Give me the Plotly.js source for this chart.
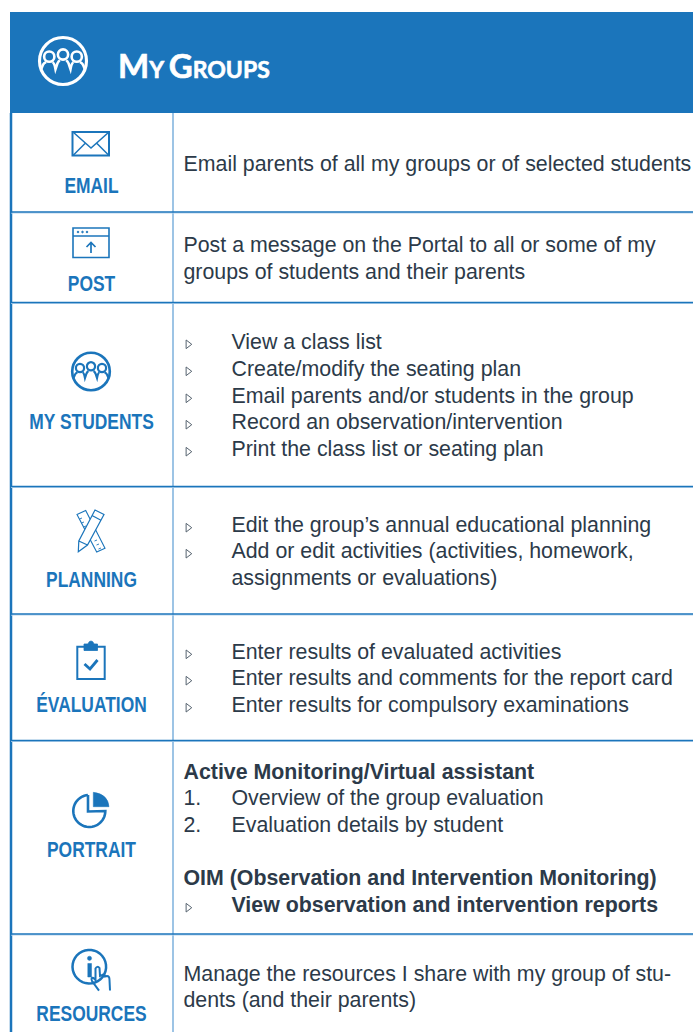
<!DOCTYPE html>
<html><head><meta charset="utf-8">
<script src="https://cdn.plot.ly/plotly-3.0.1.min.js"></script>
<style>html,body{margin:0;padding:0;background:#fff}#c{width:693px;height:1032px}</style>
</head><body><div id="c"></div>
<script>
const BLUE='#1b75bb', LIGHT='#7db1dc', INK='#2c3a49';
const titleText='<span style="font-size:33px">M</span><span style="font-size:23px">Y</span> <span style="font-size:33px">G</span><span style="font-size:23px">ROUPS</span>';
const rowLabels=['EMAIL','POST','MY STUDENTS','PLANNING','ÉVALUATION','PORTRAIT','RESOURCES'];
const labelY=[188,286,423.5,582,707,852,1016];
const rowLines=[212,302.5,486.5,614,740.5,934];
const lineText=[
'Email parents of all my groups or of selected students',
'Post a message on the Portal to all or some of my','groups of students and their parents',
'View a class list','Create/modify the seating plan','Email parents and/or students in the group','Record an observation/intervention','Print the class list or seating plan',
'Edit the group’s annual educational planning','Add or edit activities (activities, homework,','assignments or evaluations)',
'Enter results of evaluated activities','Enter results and comments for the report card','Enter results for compulsory examinations',
'<b>Active Monitoring/Virtual assistant</b>','Overview of the group evaluation','Evaluation details by student',
'<b>OIM (Observation and Intervention Monitoring)</b>','<b>View observation and intervention reports</b>',
'Manage the resources I share with my group of stu-','dents (and their parents)'];
const lineY=[166,247,273.5,343.5,370.5,397.5,423.5,450.5,526.5,553,579.5,653.5,680,706.5,773.5,799.5,826.5,879.5,906.5,975.5,1002];
const lineX=[183.5,183.5,183.5,231.5,231.5,231.5,231.5,231.5,231.5,231.5,231.5,231.5,231.5,231.5,183.5,231.5,231.5,183.5,231.5,183.5,183.5];
const bulletY=[344.3,371.3,398.3,424.7,451.7,527.7,553.7,654.3,680.7,707.7,907.7];
const numberText=['1.','2.'];
const numberY=[799.5,826.5];

function line(x0,y0,x1,y1,color,w){return {type:'line',xref:'x',yref:'y',x0,y0,x1,y1,line:{color,width:w},layer:'above'};}
function path(d,color,w,fill){return {type:'path',xref:'x',yref:'y',path:d,line:{color,width:w},fillcolor:fill||'rgba(0,0,0,0)',layer:'above'};}
function circ(cx,cy,r,color,w,fill){return {type:'circle',xref:'x',yref:'y',x0:cx-r,x1:cx+r,y0:cy-r,y1:cy+r,line:{color,width:w},fillcolor:fill||'rgba(0,0,0,0)',layer:'above'};}
function arc(cx,cy,r,a0,a1){let s='';const n=40;for(let i=0;i<=n;i++){const a=(a0+(a1-a0)*i/n)*Math.PI/180;s+=(i?' L':'M')+(cx+r*Math.cos(a)).toFixed(2)+' '+(cy+r*Math.sin(a)).toFixed(2);}return s;}
function groupIcon(cx,cy,s,color,w){
  const p=(x,y)=>(cx+x*s).toFixed(2)+' '+(cy+y*s).toFixed(2);
  const b=[circ(cx,cy,18.8*s,color,w*1.2)];
  [[-11,-3.5],[0,-5.2],[11,-3.5]].forEach(h=>b.push(circ(cx+h[0]*s,cy+h[1]*s,4.1*s,color,w)));
  b.push(path('M'+p(-17.5,6.5)+' L'+p(-16,3)+' Q'+p(-15,1.3)+' '+p(-13.5,1)
   +' M'+p(-8.5,1)+' Q'+p(-7,1.3)+' '+p(-6,6.5)+' L'+p(-4.5,2)+' Q'+p(-3.5,0)+' '+p(-2.5,-0.5)
   +' M'+p(2.5,-0.5)+' Q'+p(3.5,0)+' '+p(4.5,2)+' L'+p(6,6.5)+' Q'+p(7,1.3)+' '+p(8.5,1)
   +' M'+p(13.5,1)+' Q'+p(15,1.3)+' '+p(16,3)+' L'+p(17.5,6.5),color,w));
  return b;
}
const shapes=[
  {type:'rect',xref:'x',yref:'y',x0:10,x1:693,y0:12,y1:113,fillcolor:BLUE,line:{width:0},layer:'below'},
  line(173,113,173,1032,LIGHT,1.5),
  line(11,113,11,1032,BLUE,2.5)
];
rowLines.forEach(y=>{shapes.push(line(11,y+1,693,y+1,'#b8d4ec',1));shapes.push(line(11,y,693,y,BLUE,1.3));});
// email icon
shapes.push({type:'rect',xref:'x',yref:'y',x0:72.5,x1:109,y0:132,y1:155.5,line:{color:BLUE,width:2},fillcolor:'rgba(0,0,0,0)',layer:'above'});
shapes.push(path('M73 132 L91 148 L109 132 M73 155.5 L85.5 143 M109 155.5 L96.5 143',BLUE,1.5));
// post icon
shapes.push({type:'rect',xref:'x',yref:'y',x0:73,x1:109,y0:228,y1:257.5,line:{color:BLUE,width:1.6},fillcolor:'rgba(0,0,0,0)',layer:'above'});
shapes.push(line(73,236,109,236,BLUE,1.4));
[78,82.5,87].forEach(x=>shapes.push(circ(x,232,0.8,BLUE,1,BLUE)));
shapes.push(path('M91 253 L91 242.5 M86.5 247 L91 242.5 L95.5 247',BLUE,1.7));
// group icons
shapes.push(...groupIcon(63,61,1.25,'#ffffff',2.6));
shapes.push(...groupIcon(91,371.5,1,BLUE,2.2));
// planning icon
shapes.push(path('M77 514.5 L85.7 510.5 L105 548.3 L96.7 552 Z',BLUE,1.1,'#ffffff'));
shapes.push(path('M79.5 519 L82 518 M81.5 523 L84 522 M83.5 527 L86 526 M94.5 541 L97 540 M96.5 545 L99 544 M98.5 549 L101 548',BLUE,0.9));
shapes.push(path('M95 510 L104 514.5 L87.5 545 L78.3 551.7 L78.8 541 Z M92 515.5 L100.5 520 M78.8 541 L87.5 545',BLUE,1.2,'#ffffff'));
// evaluation icon
shapes.push({type:'rect',xref:'x',yref:'y',x0:77.3,x1:104.7,y0:646.7,y1:679,line:{color:BLUE,width:2},fillcolor:'rgba(0,0,0,0)',layer:'above'});
shapes.push(path('M84 644 L88 644 Q89 641 91 641 Q93 641 94 644 L97.5 644 L97.5 650.5 L84 650.5 Z',BLUE,0.8,BLUE));
shapes.push(path('M84.5 664 L90 669 L97.5 660',BLUE,2.8));
// portrait icon
shapes.push(path(arc(89.3,811,16,-95,-360)+' L88 811.5 L88 795',BLUE,2.6));
shapes.push(path('M93.3 792.3 L93.3 806.7 L109 806.7 Q108 794 93.3 792.3 Z',BLUE,0.5,BLUE));
// resources icon
shapes.push(path(arc(89.3,966.7,16.8,80,-355),BLUE,2.5));
shapes.push(circ(89.5,958.3,2.1,BLUE,0.5,BLUE));
shapes.push(path('M87.8 963.5 L91.5 963.5 L91.5 977 L87.8 977 Z',BLUE,0.5,BLUE));
shapes.push(path('M99 990.7 L92 981 Q90.5 977 93.5 978 L95.5 980 L95.5 968.5 Q97.5 965.5 99.5 968 L100 976 L102.5 974.8 Q104.5 974 105 976.5 L107 976 Q109.5 976 109.5 980 L110 990.5',BLUE,2));

const bold=s=>'<b>'+s+'</b>';
const data=[
 {type:'scatter',mode:'text',x:rowLabels.map(()=>91.5),y:labelY,text:rowLabels.map(bold),textposition:'middle center',cliponaxis:false,
  textfont:{family:'"Liberation Sans",Arial,sans-serif',size:21.5,color:BLUE},hoverinfo:'skip'},
 {type:'scatter',mode:'text',x:lineX,y:lineY,text:lineText,textposition:'middle right',cliponaxis:false,
  textfont:{family:'"Liberation Sans",Arial,sans-serif',size:21.35,color:INK},hoverinfo:'skip'},
 {type:'scatter',mode:'text',x:numberY.map(()=>183.5),y:numberY,text:numberText,textposition:'middle right',cliponaxis:false,
  textfont:{family:'"Liberation Sans",Arial,sans-serif',size:21.35,color:INK},hoverinfo:'skip'},
 {type:'scatter',mode:'markers',x:bulletY.map(()=>188),y:bulletY,cliponaxis:false,
  marker:{symbol:'triangle-right-open',size:7.5,color:'#56636f',line:{width:1,color:'#56636f'}},hoverinfo:'skip'}
];
const layout={width:693,height:1032,margin:{l:0,r:0,t:0,b:0},showlegend:false,paper_bgcolor:'#fff',plot_bgcolor:'#fff',
 xaxis:{visible:false,range:[0,693],fixedrange:true},yaxis:{visible:false,range:[1032,0],fixedrange:true},shapes,
 annotations:[{xref:'x',yref:'y',x:116,y:65,xanchor:'left',yanchor:'middle',showarrow:false,text:'<b>'+titleText+'</b>',
   font:{family:'Lato,"Open Sans",sans-serif',size:23,color:'#ffffff'}}]};
Plotly.newPlot('c',data,layout,{displayModeBar:false,staticPlot:true}).then(()=>{
  document.querySelectorAll('.textpoint text').forEach(t=>{
    if(rowLabels.includes(t.textContent)){
      const w=t.getComputedTextLength();
      t.setAttribute('textLength',(w*0.81).toFixed(1));
      t.setAttribute('lengthAdjust','spacingAndGlyphs');
    }
  });
  document.querySelectorAll('.annotation-text').forEach(t=>{t.style.stroke='#fff';t.style.strokeWidth='0.6px';});
});
</script></body></html>
